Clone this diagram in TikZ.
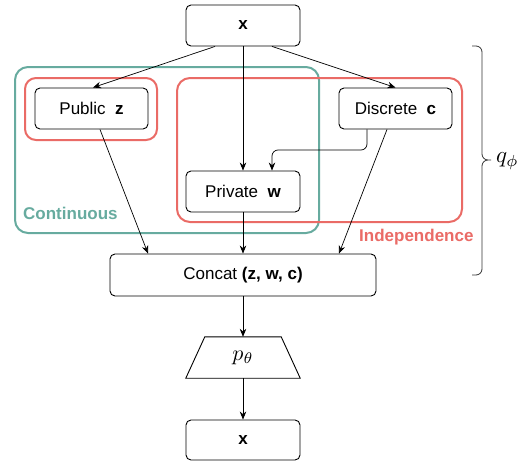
\documentclass[tikz,border=0pt]{standalone}
\usepackage{fontspec}
\setmainfont{Liberation Sans}
\usetikzlibrary{arrows.meta}
\definecolor{tealgrp}{HTML}{67AB9F}
\definecolor{redgrp}{HTML}{EA6B66}
\definecolor{bracegray}{HTML}{333333}
\tikzset{
  box/.style={draw=black, line width=0.9pt, rounded corners=5pt, fill=white,
    inner sep=0pt, font=\fontsize{17}{20}\selectfont},
  grp/.style={line width=2pt, rounded corners=13pt},
  arr/.style={-{Stealth[length=8pt,width=6.5pt]}, line width=0.7pt},
  grplabel/.style={font=\fontsize{17}{20}\selectfont\bfseries, inner sep=0pt},
}
\begin{document}
\begin{tikzpicture}[x=1pt, y=-1pt]
  \useasboundingbox (0,0) rectangle (520,461);

  % group outlines
  \draw[grp, tealgrp] (15,67) rectangle (319,233);
  \draw[grp, redgrp, rounded corners=11pt] (25,78) rectangle (157,140);
  \draw[grp, redgrp] (177,78) rectangle (462,222);
  \node[grplabel, tealgrp, anchor=west] (lblcont) at (23,213) {Continuous};
  \node[grplabel, redgrp, anchor=west] (lblind) at (359,237) {Independence};

  % boxes
  \node[box, minimum width=114pt, minimum height=41pt] (xin) at (243,25.5) {\textbf{x}};
  \node[box, minimum width=113pt, minimum height=41pt] (pub) at (91.5,108.5) {Public\hspace{0.55em}\textbf{z}};
  \node[box, minimum width=113pt, minimum height=41pt] (disc) at (395.5,108.5) {Discrete\hspace{0.55em}\textbf{c}};
  \node[box, minimum width=114pt, minimum height=41pt] (priv) at (243,191.5) {Private\hspace{0.55em}\textbf{w}};
  \node[box, minimum width=266pt, minimum height=42pt] (cat) at (243,275) {Concat \textbf{(z, w, c)}};
  \node[inner sep=0pt, minimum width=114pt, minimum height=41pt] (dec) at (243,357.5)
    {\scalebox{2.2}{$p_\theta$}};
  \draw[line width=0.9pt] ([xshift=19pt]dec.north west) -- ([xshift=-19pt]dec.north east)
    -- (dec.south east) -- (dec.south west) -- cycle;
  \node[box, minimum width=114pt, minimum height=40pt] (xout) at (243,440) {\textbf{x}};

  % connectors
  \draw[arr] ([xshift=-28pt]xin.south) -- ([xshift=1.5pt]pub.north);
  \draw[arr] ([xshift=29pt]xin.south) -- (disc.north);
  \draw[arr] (xin.south) -- (priv.north);
  \draw[arr, rounded corners=6pt] ([xshift=-28.5pt]disc.south) |- (290,150) -| ([xshift=29pt]priv.north);
  \draw[arr] ([xshift=8.5pt]pub.south) -- ([xshift=-95pt]cat.north);
  \draw[arr] (priv.south) -- (cat.north);
  \draw[arr] ([xshift=-8.5pt]disc.south) -- ([xshift=96pt]cat.north);
  \draw[arr] (cat.south) -- (dec.north);
  \draw[arr] (dec.south) -- (xout.north);

  % brace for the encoder
  \coordinate (bt) at (472,46);
  \coordinate (bb) at (472,275);
  \coordinate (btip) at (491,160);
  \draw[bracegray, line width=0.8pt, rounded corners=6pt]
    (bt) -- (482,46) -- (482,160) -- (btip)
    (btip) -- (482,160) -- (482,275) -- (bb);
  \node[anchor=west, inner sep=0pt] (qphi) at (496,161) {\scalebox{2.3}{$q_\phi$}};
\end{tikzpicture}
\end{document}
